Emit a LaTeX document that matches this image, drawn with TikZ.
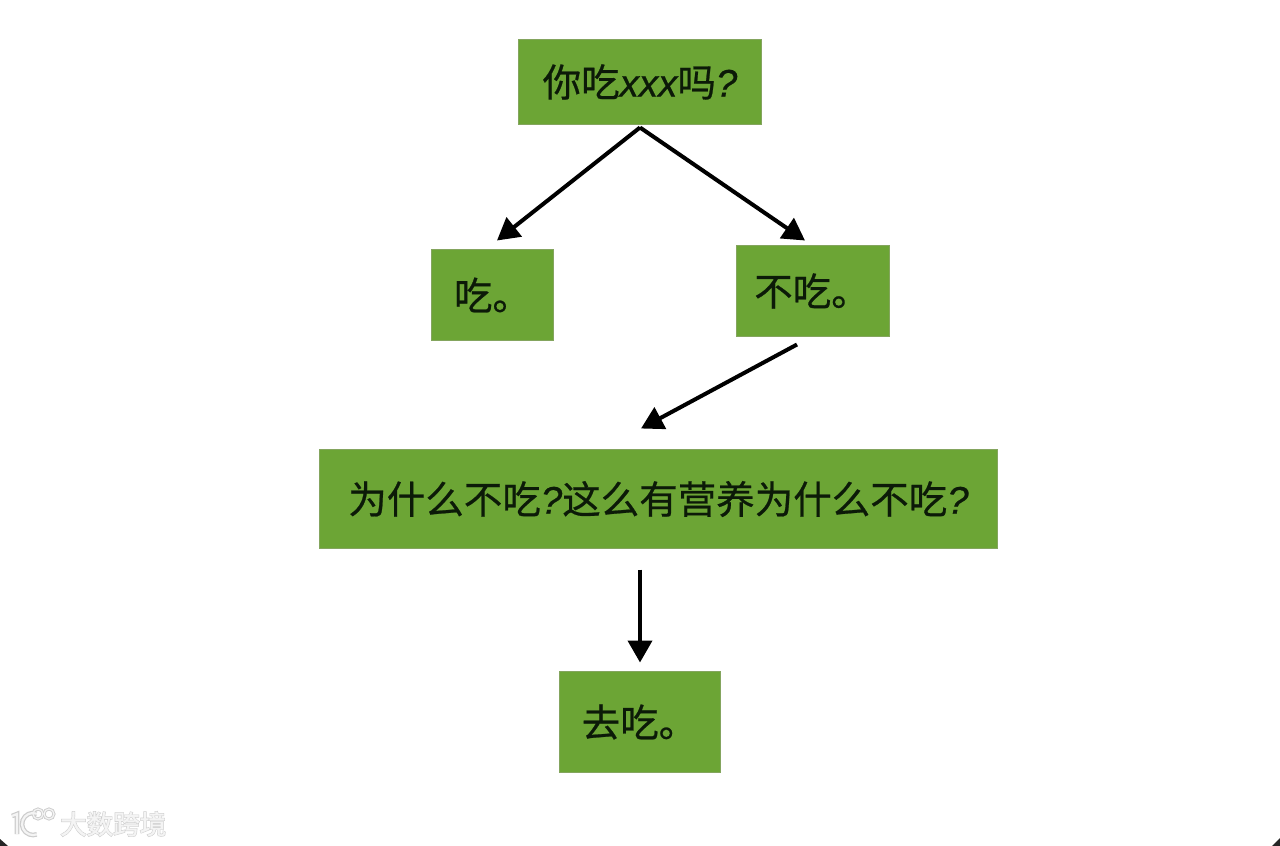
\documentclass[tikz,border=0pt]{standalone}
\usepackage{fontspec}
\setmainfont[FakeBold=0.6]{Noto Sans CJK SC}
\newfontfamily\latinfont[FakeBold=0.6]{Liberation Sans}
\newfontfamily\glowfont[FakeBold=5]{Noto Sans CJK SC}
\newfontfamily\plainfont[FakeBold=1]{Noto Sans CJK SC}
\usetikzlibrary{arrows.meta}
\definecolor{boxgreen}{HTML}{6CA535}
\definecolor{boxedge}{HTML}{84A55E}
\definecolor{inktext}{HTML}{0C1A08}
\definecolor{markgray}{HTML}{CCCCCC}
\definecolor{markcore}{HTML}{F4F4F4}
\tikzset{
  stepbox/.style={fill=boxgreen,draw=boxedge,line width=0.5pt,text=inktext,inner sep=0pt,outer sep=0pt,font=\fontsize{38.5}{38.5}\selectfont,anchor=center},
  link/.style={draw=black,line width=4pt,-{Triangle[length=22pt,width=24pt]}},
  markglow/.style={text=markgray,inner sep=0pt,font=\fontsize{26.5}{26.5}\selectfont\glowfont},
  markcoretext/.style={text=markcore,inner sep=0pt,font=\fontsize{26.5}{26.5}\selectfont\plainfont},
  markringa/.style={draw=markgray,line width=4.6pt},
  markringb/.style={draw=markcore,line width=2.2pt},
  markthina/.style={draw=markgray,line width=3pt},
  markthinb/.style={draw=markcore,line width=1.2pt}
}
\newcommand{\ques}{{\latinfont\itshape ?}}
\begin{document}
\begin{tikzpicture}[x=1pt,y=-1pt]
\useasboundingbox[fill=white] (0,0) rectangle (1280,846);
\fill[black!85] (0,839) -- (8,846) -- (0,846) -- cycle;
\fill[black!85] (1280,838) -- (1272,846) -- (1280,846) -- cycle;
\node[stepbox,minimum width=243pt,minimum height=85pt] (q) at (640,82) {\raisebox{-4pt}{你吃{\latinfont\itshape xxx}吗\ques}};
\node[stepbox,minimum width=122pt,minimum height=91pt] (yes) at (492.5,295) {吃。};
\node[stepbox,minimum width=153pt,minimum height=91pt] (no) at (813,291) {\kern-2pt 不吃。};
\node[stepbox,minimum width=678pt,minimum height=99pt] (why) at (658.5,499) {\raisebox{-2pt}{为什么不吃\ques 这么有营养为什么不吃\ques}};
\node[stepbox,minimum width=161pt,minimum height=101pt] (go) at (640,722) {\kern-1pt 去吃。};
\draw[link] ([yshift=-3pt]q.south) -- ([shift={(4.5pt,9pt)}]yes.north);
\draw[link] ([yshift=-3pt]q.south) -- ([shift={(-8pt,5pt)}]no.north);
\draw[link] ([shift={(-16pt,-8pt)}]no.south) -- ([shift={(-17.5pt,21pt)}]why.north);
\draw[link] ([shift={(-18.5pt,-21pt)}]why.south) -- ([yshift=9pt]go.north);
% watermark
\node[markglow,anchor=west] (markg) at (60,824) {大数跨境};
\node[markcoretext,anchor=west] (markc) at (60,824) {大数跨境};
\draw[markringa] (12,816) -- (17,814) -- (17,834);
\draw[markringa] (36.8,813.7) arc (-70:-290:11);
\draw[markthina] (38,814) circle (5);
\draw[markthina] (49,814) circle (5);
\draw[markringb] (12,816) -- (17,814) -- (17,834);
\draw[markringb] (36.8,813.7) arc (-70:-290:11);
\draw[markthinb] (38,814) circle (5);
\draw[markthinb] (49,814) circle (5);
\end{tikzpicture}
\end{document}
